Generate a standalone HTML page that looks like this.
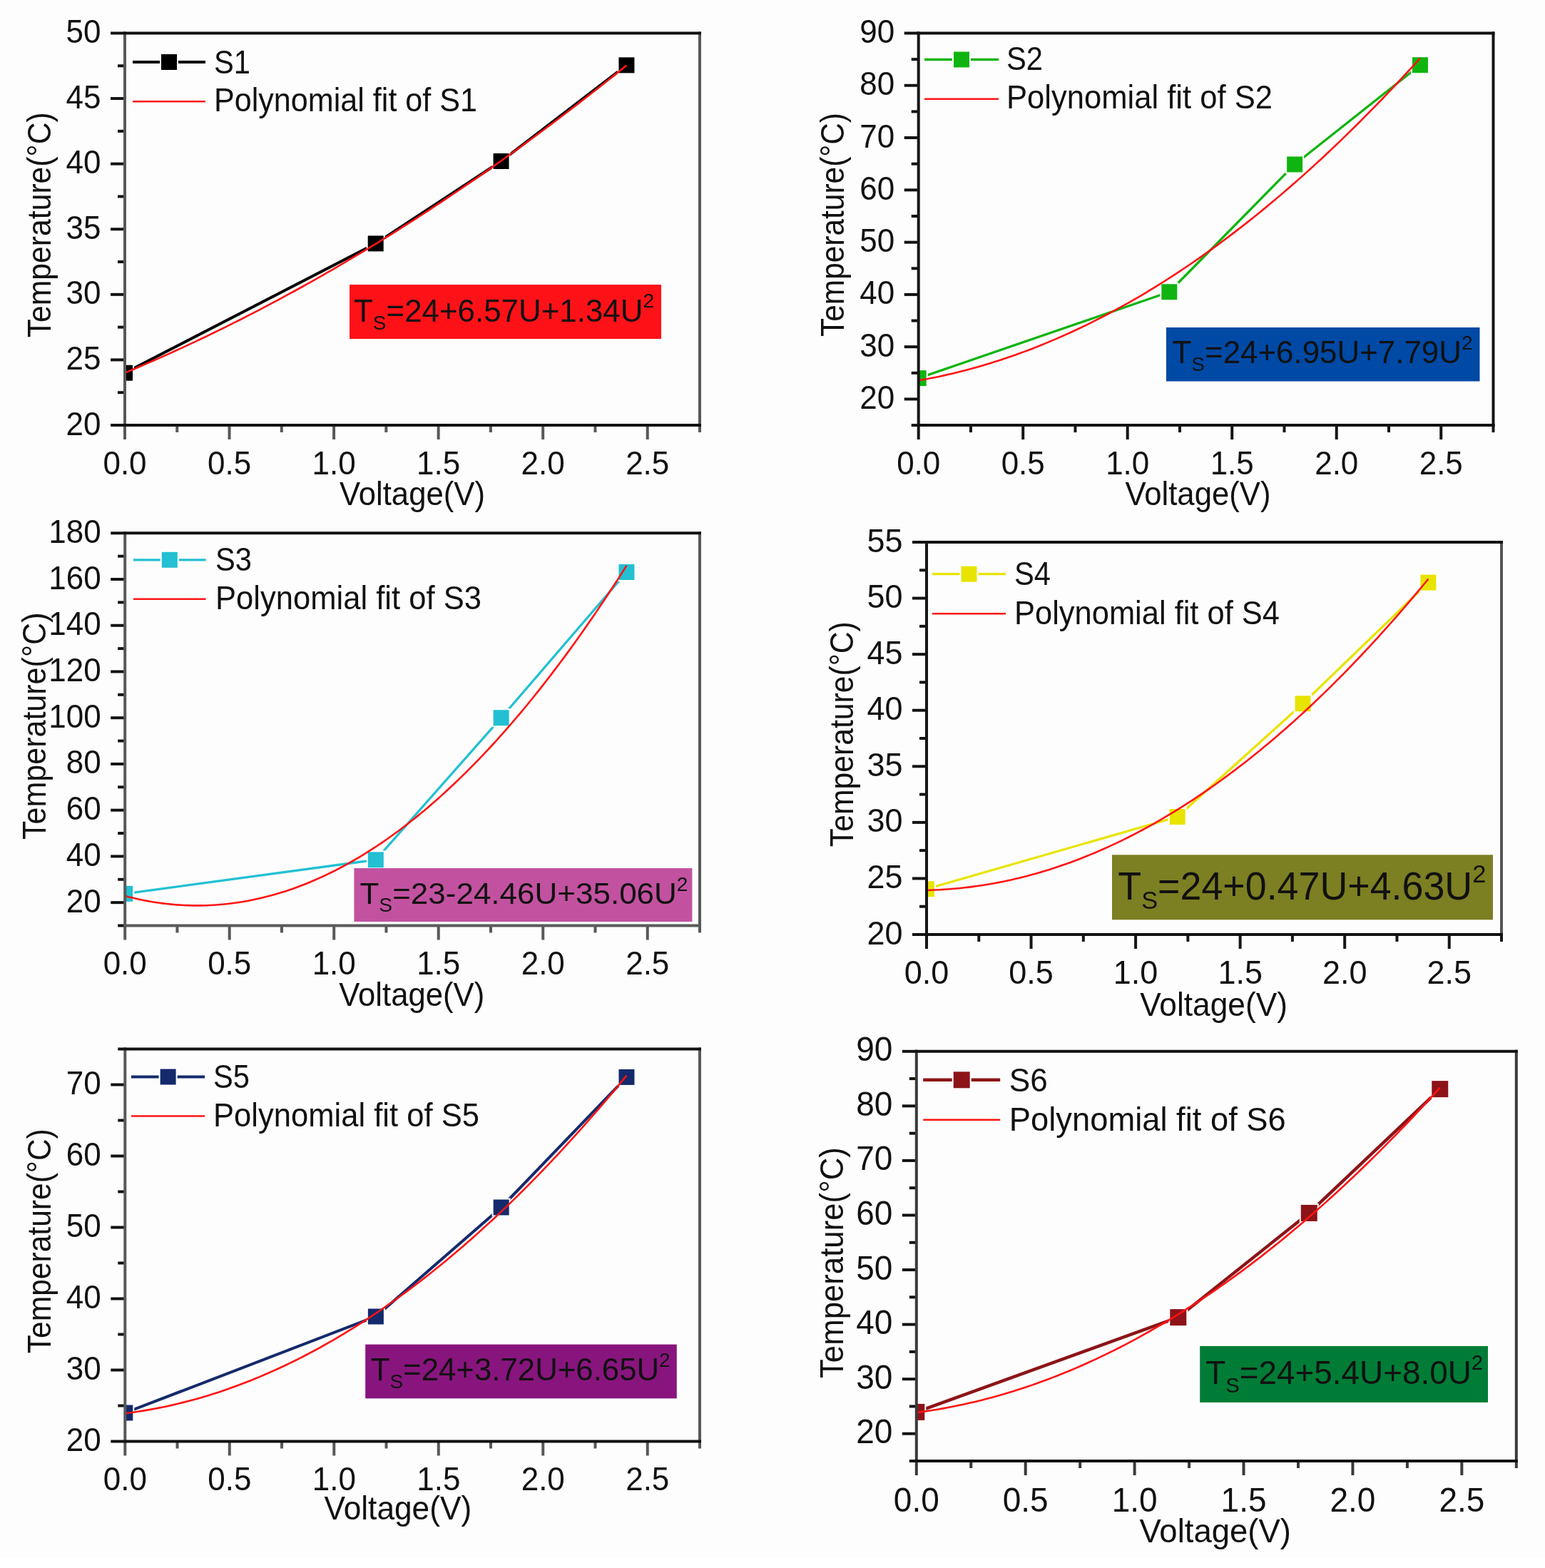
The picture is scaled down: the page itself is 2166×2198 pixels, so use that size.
<!DOCTYPE html>
<html><head><meta charset="utf-8"><title>Temperature vs Voltage</title>
<style>
html,body{margin:0;padding:0;background:#fff;}
body{width:2166px;height:2198px;overflow:hidden;}
svg{display:block;}
text{font-family:"Liberation Sans", Arial, sans-serif;fill:#111;}
</style></head>
<body>
<svg width="2166" height="2198" viewBox="0 0 2166 2198">
<rect width="2166" height="2198" fill="#fff"/>
<rect width="2166" height="2183" fill="#fdfdfd"/>
<clipPath id="c1"><rect x="175" y="46.5" width="806" height="549.5"/></clipPath>
<g clip-path="url(#c1)">
<polyline points="175.00,522.73 526.71,341.40 702.56,226.00 878.42,91.38" fill="none" stroke="#000000" stroke-width="4" stroke-linejoin="round"/>
<rect x="162.00" y="509.73" width="26" height="26" fill="#fff"/>
<rect x="513.71" y="328.40" width="26" height="26" fill="#fff"/>
<rect x="689.56" y="213.00" width="26" height="26" fill="#fff"/>
<rect x="865.42" y="78.38" width="26" height="26" fill="#fff"/>
<rect x="164.00" y="511.73" width="22" height="22" fill="#000000"/>
<rect x="515.71" y="330.40" width="22" height="22" fill="#000000"/>
<rect x="691.56" y="215.00" width="22" height="22" fill="#000000"/>
<rect x="867.42" y="80.38" width="22" height="22" fill="#000000"/>
<polyline points="175.00,522.66 180.91,520.19 186.82,517.71 192.73,515.20 198.64,512.68 204.56,510.14 210.47,507.57 216.38,504.99 222.29,502.39 228.20,499.77 234.11,497.12 240.02,494.46 245.93,491.78 251.84,489.08 257.76,486.36 263.67,483.62 269.58,480.86 275.49,478.08 281.40,475.29 287.31,472.47 293.22,469.63 299.13,466.77 305.04,463.89 310.95,461.00 316.87,458.08 322.78,455.15 328.69,452.19 334.60,449.22 340.51,446.22 346.42,443.21 352.33,440.17 358.24,437.12 364.15,434.05 370.07,430.95 375.98,427.84 381.89,424.71 387.80,421.56 393.71,418.39 399.62,415.19 405.53,411.98 411.44,408.75 417.35,405.50 423.27,402.24 429.18,398.95 435.09,395.64 441.00,392.31 446.91,388.96 452.82,385.59 458.73,382.21 464.64,378.80 470.55,375.38 476.46,371.93 482.38,368.46 488.29,364.98 494.20,361.47 500.11,357.95 506.02,354.41 511.93,350.84 517.84,347.26 523.75,343.66 529.66,340.03 535.58,336.39 541.49,332.73 547.40,329.05 553.31,325.35 559.22,321.63 565.13,317.89 571.04,314.13 576.95,310.35 582.86,306.55 588.78,302.73 594.69,298.89 600.60,295.04 606.51,291.16 612.42,287.26 618.33,283.35 624.24,279.41 630.15,275.45 636.06,271.48 641.98,267.48 647.89,263.47 653.80,259.43 659.71,255.38 665.62,251.31 671.53,247.21 677.44,243.10 683.35,238.97 689.26,234.82 695.17,230.65 701.09,226.45 707.00,222.24 712.91,218.01 718.82,213.76 724.73,209.49 730.64,205.20 736.55,200.90 742.46,196.57 748.37,192.22 754.29,187.85 760.20,183.46 766.11,179.06 772.02,174.63 777.93,170.19 783.84,165.72 789.75,161.23 795.66,156.73 801.57,152.20 807.49,147.66 813.40,143.10 819.31,138.51 825.22,133.91 831.13,129.29 837.04,124.65 842.95,119.98 848.86,115.30 854.77,110.60 860.68,105.88 866.60,101.14 872.51,96.38 878.42,91.60" fill="none" stroke="#ff1414" stroke-width="2.6"/>
</g>
<rect x="490" y="399" width="437" height="76" fill="#fe1218"/>
<text transform="translate(496,450.5) scale(0.5)" font-size="88.0" textLength="842.0" lengthAdjust="spacingAndGlyphs">T<tspan font-size="56.3" dy="22.0">S</tspan><tspan dy="-22.0">=24+6.57U+1.34U</tspan><tspan font-size="56.3" dy="-38.7">2</tspan></text>
<text transform="translate(175.00,664.50) scale(0.5,0.5200)" font-size="88.0" text-anchor="middle">0.0</text>
<text transform="translate(321.55,664.50) scale(0.5,0.5200)" font-size="88.0" text-anchor="middle">0.5</text>
<text transform="translate(468.09,664.50) scale(0.5,0.5200)" font-size="88.0" text-anchor="middle">1.0</text>
<text transform="translate(614.64,664.50) scale(0.5,0.5200)" font-size="88.0" text-anchor="middle">1.5</text>
<text transform="translate(761.18,664.50) scale(0.5,0.5200)" font-size="88.0" text-anchor="middle">2.0</text>
<text transform="translate(907.73,664.50) scale(0.5,0.5200)" font-size="88.0" text-anchor="middle">2.5</text>
<text transform="translate(141.50,609.50) scale(0.5,0.5200)" font-size="88.0" text-anchor="end">20</text>
<text transform="translate(141.50,517.92) scale(0.5,0.5200)" font-size="88.0" text-anchor="end">25</text>
<text transform="translate(141.50,426.33) scale(0.5,0.5200)" font-size="88.0" text-anchor="end">30</text>
<text transform="translate(141.50,334.75) scale(0.5,0.5200)" font-size="88.0" text-anchor="end">35</text>
<text transform="translate(141.50,243.17) scale(0.5,0.5200)" font-size="88.0" text-anchor="end">40</text>
<text transform="translate(141.50,151.58) scale(0.5,0.5200)" font-size="88.0" text-anchor="end">45</text>
<text transform="translate(141.50,60.00) scale(0.5,0.5200)" font-size="88.0" text-anchor="end">50</text>
<line x1="175.00" y1="596" x2="175.00" y2="616" stroke="#585858" stroke-width="4"/>
<line x1="248.27" y1="596" x2="248.27" y2="606" stroke="#585858" stroke-width="4"/>
<line x1="321.55" y1="596" x2="321.55" y2="616" stroke="#585858" stroke-width="4"/>
<line x1="394.82" y1="596" x2="394.82" y2="606" stroke="#585858" stroke-width="4"/>
<line x1="468.09" y1="596" x2="468.09" y2="616" stroke="#585858" stroke-width="4"/>
<line x1="541.36" y1="596" x2="541.36" y2="606" stroke="#585858" stroke-width="4"/>
<line x1="614.64" y1="596" x2="614.64" y2="616" stroke="#585858" stroke-width="4"/>
<line x1="687.91" y1="596" x2="687.91" y2="606" stroke="#585858" stroke-width="4"/>
<line x1="761.18" y1="596" x2="761.18" y2="616" stroke="#585858" stroke-width="4"/>
<line x1="834.45" y1="596" x2="834.45" y2="606" stroke="#585858" stroke-width="4"/>
<line x1="907.73" y1="596" x2="907.73" y2="616" stroke="#585858" stroke-width="4"/>
<line x1="981.00" y1="596" x2="981.00" y2="606" stroke="#585858" stroke-width="4"/>
<line x1="155" y1="596.00" x2="175" y2="596.00" stroke="#111" stroke-width="4"/>
<line x1="165" y1="550.21" x2="175" y2="550.21" stroke="#111" stroke-width="4"/>
<line x1="155" y1="504.42" x2="175" y2="504.42" stroke="#111" stroke-width="4"/>
<line x1="165" y1="458.62" x2="175" y2="458.62" stroke="#111" stroke-width="4"/>
<line x1="155" y1="412.83" x2="175" y2="412.83" stroke="#111" stroke-width="4"/>
<line x1="165" y1="367.04" x2="175" y2="367.04" stroke="#111" stroke-width="4"/>
<line x1="155" y1="321.25" x2="175" y2="321.25" stroke="#111" stroke-width="4"/>
<line x1="165" y1="275.46" x2="175" y2="275.46" stroke="#111" stroke-width="4"/>
<line x1="155" y1="229.67" x2="175" y2="229.67" stroke="#111" stroke-width="4"/>
<line x1="165" y1="183.88" x2="175" y2="183.88" stroke="#111" stroke-width="4"/>
<line x1="155" y1="138.08" x2="175" y2="138.08" stroke="#111" stroke-width="4"/>
<line x1="165" y1="92.29" x2="175" y2="92.29" stroke="#111" stroke-width="4"/>
<line x1="155" y1="46.50" x2="175" y2="46.50" stroke="#111" stroke-width="4"/>
<line x1="175" y1="44.5" x2="175" y2="598.0" stroke="#585858" stroke-width="4"/>
<line x1="981" y1="44.5" x2="981" y2="598.0" stroke="#585858" stroke-width="4"/>
<line x1="173.0" y1="46.5" x2="983.0" y2="46.5" stroke="#111" stroke-width="4"/>
<line x1="173.0" y1="596" x2="983.0" y2="596" stroke="#111" stroke-width="4"/>
<text transform="translate(476.00,708.20) scale(0.5,0.5200)" font-size="88.0" textLength="408.0" lengthAdjust="spacingAndGlyphs">Voltage(V)</text>
<text transform="translate(71.20,473.30) rotate(-90) scale(0.5,0.5200)" font-size="88.0" textLength="632.0" lengthAdjust="spacingAndGlyphs">Temperature(°C)</text>
<line x1="186" y1="87" x2="288" y2="87" stroke="#000000" stroke-width="4"/>
<rect x="224.00" y="74.00" width="26" height="26" fill="#fff"/>
<rect x="226.00" y="76.00" width="22" height="22" fill="#000000"/>
<line x1="186" y1="142.3" x2="288" y2="142.3" stroke="#ff1414" stroke-width="2.6"/>
<text transform="translate(300.00,103.30) scale(0.5,0.5200)" font-size="88.0" textLength="102.0" lengthAdjust="spacingAndGlyphs">S1</text>
<text transform="translate(300.00,156.00) scale(0.5,0.5200)" font-size="88.0" textLength="738.0" lengthAdjust="spacingAndGlyphs">Polynomial fit of S1</text>
<clipPath id="c2"><rect x="1287.7" y="46.5" width="805.8" height="549.6"/></clipPath>
<g clip-path="url(#c2)">
<polyline points="1287.70,530.15 1639.32,409.24 1815.13,230.43 1990.94,91.20" fill="none" stroke="#10b410" stroke-width="3.3" stroke-linejoin="round"/>
<rect x="1274.70" y="517.15" width="26" height="26" fill="#fff"/>
<rect x="1626.32" y="396.24" width="26" height="26" fill="#fff"/>
<rect x="1802.13" y="217.43" width="26" height="26" fill="#fff"/>
<rect x="1977.94" y="78.20" width="26" height="26" fill="#fff"/>
<rect x="1276.70" y="519.15" width="22" height="22" fill="#10b410"/>
<rect x="1628.32" y="398.24" width="22" height="22" fill="#10b410"/>
<rect x="1804.13" y="219.43" width="22" height="22" fill="#10b410"/>
<rect x="1979.94" y="80.20" width="22" height="22" fill="#10b410"/>
<polyline points="1287.70,533.38 1293.61,532.33 1299.52,531.23 1305.43,530.09 1311.34,528.90 1317.25,527.66 1323.16,526.38 1329.07,525.05 1334.98,523.67 1340.89,522.25 1346.80,520.78 1352.71,519.26 1358.62,517.70 1364.52,516.09 1370.43,514.43 1376.34,512.73 1382.25,510.98 1388.16,509.19 1394.07,507.35 1399.98,505.46 1405.89,503.52 1411.80,501.54 1417.71,499.51 1423.62,497.44 1429.53,495.32 1435.44,493.15 1441.35,490.93 1447.26,488.67 1453.17,486.37 1459.08,484.01 1464.99,481.61 1470.90,479.16 1476.81,476.67 1482.72,474.13 1488.63,471.54 1494.54,468.91 1500.45,466.23 1506.36,463.50 1512.27,460.73 1518.17,457.91 1524.08,455.05 1529.99,452.13 1535.90,449.17 1541.81,446.17 1547.72,443.11 1553.63,440.02 1559.54,436.87 1565.45,433.68 1571.36,430.44 1577.27,427.15 1583.18,423.82 1589.09,420.44 1595.00,417.02 1600.91,413.55 1606.82,410.03 1612.73,406.47 1618.64,402.86 1624.55,399.20 1630.46,395.49 1636.37,391.74 1642.28,387.95 1648.19,384.10 1654.10,380.21 1660.01,376.27 1665.92,372.29 1671.82,368.26 1677.73,364.18 1683.64,360.06 1689.55,355.89 1695.46,351.68 1701.37,347.41 1707.28,343.10 1713.19,338.75 1719.10,334.35 1725.01,329.90 1730.92,325.40 1736.83,320.86 1742.74,316.27 1748.65,311.63 1754.56,306.95 1760.47,302.22 1766.38,297.45 1772.29,292.63 1778.20,287.76 1784.11,282.85 1790.02,277.88 1795.93,272.88 1801.84,267.82 1807.75,262.72 1813.66,257.57 1819.56,252.38 1825.47,247.14 1831.38,241.85 1837.29,236.52 1843.20,231.14 1849.11,225.71 1855.02,220.24 1860.93,214.72 1866.84,209.15 1872.75,203.54 1878.66,197.88 1884.57,192.18 1890.48,186.42 1896.39,180.62 1902.30,174.78 1908.21,168.89 1914.12,162.95 1920.03,156.96 1925.94,150.93 1931.85,144.85 1937.76,138.73 1943.67,132.56 1949.58,126.34 1955.49,120.07 1961.40,113.76 1967.31,107.40 1973.21,101.00 1979.12,94.55 1985.03,88.05 1990.94,81.51" fill="none" stroke="#ff1414" stroke-width="2.6"/>
</g>
<rect x="1635" y="459" width="439.5" height="75.5" fill="#0049a5"/>
<text transform="translate(1643.5,509.3) scale(0.5)" font-size="88.0" textLength="842.0" lengthAdjust="spacingAndGlyphs">T<tspan font-size="56.3" dy="22.0">S</tspan><tspan dy="-22.0">=24+6.95U+7.79U</tspan><tspan font-size="56.3" dy="-38.7">2</tspan></text>
<text transform="translate(1287.70,664.60) scale(0.5,0.5200)" font-size="88.0" text-anchor="middle">0.0</text>
<text transform="translate(1434.21,664.60) scale(0.5,0.5200)" font-size="88.0" text-anchor="middle">0.5</text>
<text transform="translate(1580.72,664.60) scale(0.5,0.5200)" font-size="88.0" text-anchor="middle">1.0</text>
<text transform="translate(1727.23,664.60) scale(0.5,0.5200)" font-size="88.0" text-anchor="middle">1.5</text>
<text transform="translate(1873.74,664.60) scale(0.5,0.5200)" font-size="88.0" text-anchor="middle">2.0</text>
<text transform="translate(2020.25,664.60) scale(0.5,0.5200)" font-size="88.0" text-anchor="middle">2.5</text>
<text transform="translate(1254.20,572.96) scale(0.5,0.5200)" font-size="88.0" text-anchor="end">20</text>
<text transform="translate(1254.20,499.68) scale(0.5,0.5200)" font-size="88.0" text-anchor="end">30</text>
<text transform="translate(1254.20,426.40) scale(0.5,0.5200)" font-size="88.0" text-anchor="end">40</text>
<text transform="translate(1254.20,353.12) scale(0.5,0.5200)" font-size="88.0" text-anchor="end">50</text>
<text transform="translate(1254.20,279.84) scale(0.5,0.5200)" font-size="88.0" text-anchor="end">60</text>
<text transform="translate(1254.20,206.56) scale(0.5,0.5200)" font-size="88.0" text-anchor="end">70</text>
<text transform="translate(1254.20,133.28) scale(0.5,0.5200)" font-size="88.0" text-anchor="end">80</text>
<text transform="translate(1254.20,60.00) scale(0.5,0.5200)" font-size="88.0" text-anchor="end">90</text>
<line x1="1287.70" y1="596.1" x2="1287.70" y2="616.1" stroke="#151515" stroke-width="4"/>
<line x1="1360.95" y1="596.1" x2="1360.95" y2="606.1" stroke="#151515" stroke-width="4"/>
<line x1="1434.21" y1="596.1" x2="1434.21" y2="616.1" stroke="#151515" stroke-width="4"/>
<line x1="1507.46" y1="596.1" x2="1507.46" y2="606.1" stroke="#151515" stroke-width="4"/>
<line x1="1580.72" y1="596.1" x2="1580.72" y2="616.1" stroke="#151515" stroke-width="4"/>
<line x1="1653.97" y1="596.1" x2="1653.97" y2="606.1" stroke="#151515" stroke-width="4"/>
<line x1="1727.23" y1="596.1" x2="1727.23" y2="616.1" stroke="#151515" stroke-width="4"/>
<line x1="1800.48" y1="596.1" x2="1800.48" y2="606.1" stroke="#151515" stroke-width="4"/>
<line x1="1873.74" y1="596.1" x2="1873.74" y2="616.1" stroke="#151515" stroke-width="4"/>
<line x1="1946.99" y1="596.1" x2="1946.99" y2="606.1" stroke="#151515" stroke-width="4"/>
<line x1="2020.25" y1="596.1" x2="2020.25" y2="616.1" stroke="#151515" stroke-width="4"/>
<line x1="2093.50" y1="596.1" x2="2093.50" y2="606.1" stroke="#151515" stroke-width="4"/>
<line x1="1277.7" y1="596.10" x2="1287.7" y2="596.10" stroke="#111" stroke-width="4"/>
<line x1="1267.7" y1="559.46" x2="1287.7" y2="559.46" stroke="#111" stroke-width="4"/>
<line x1="1277.7" y1="522.82" x2="1287.7" y2="522.82" stroke="#111" stroke-width="4"/>
<line x1="1267.7" y1="486.18" x2="1287.7" y2="486.18" stroke="#111" stroke-width="4"/>
<line x1="1277.7" y1="449.54" x2="1287.7" y2="449.54" stroke="#111" stroke-width="4"/>
<line x1="1267.7" y1="412.90" x2="1287.7" y2="412.90" stroke="#111" stroke-width="4"/>
<line x1="1277.7" y1="376.26" x2="1287.7" y2="376.26" stroke="#111" stroke-width="4"/>
<line x1="1267.7" y1="339.62" x2="1287.7" y2="339.62" stroke="#111" stroke-width="4"/>
<line x1="1277.7" y1="302.98" x2="1287.7" y2="302.98" stroke="#111" stroke-width="4"/>
<line x1="1267.7" y1="266.34" x2="1287.7" y2="266.34" stroke="#111" stroke-width="4"/>
<line x1="1277.7" y1="229.70" x2="1287.7" y2="229.70" stroke="#111" stroke-width="4"/>
<line x1="1267.7" y1="193.06" x2="1287.7" y2="193.06" stroke="#111" stroke-width="4"/>
<line x1="1277.7" y1="156.42" x2="1287.7" y2="156.42" stroke="#111" stroke-width="4"/>
<line x1="1267.7" y1="119.78" x2="1287.7" y2="119.78" stroke="#111" stroke-width="4"/>
<line x1="1277.7" y1="83.14" x2="1287.7" y2="83.14" stroke="#111" stroke-width="4"/>
<line x1="1267.7" y1="46.50" x2="1287.7" y2="46.50" stroke="#111" stroke-width="4"/>
<line x1="1287.7" y1="44.5" x2="1287.7" y2="598.1" stroke="#151515" stroke-width="4"/>
<line x1="2093.5" y1="44.5" x2="2093.5" y2="598.1" stroke="#151515" stroke-width="4"/>
<line x1="1285.7" y1="46.5" x2="2095.5" y2="46.5" stroke="#111" stroke-width="4"/>
<line x1="1285.7" y1="596.1" x2="2095.5" y2="596.1" stroke="#111" stroke-width="4"/>
<text transform="translate(1577.50,708.20) scale(0.5,0.5200)" font-size="88.0" textLength="408.0" lengthAdjust="spacingAndGlyphs">Voltage(V)</text>
<text transform="translate(1182.70,472.00) rotate(-90) scale(0.5,0.5200)" font-size="88.0" textLength="628.0" lengthAdjust="spacingAndGlyphs">Temperature(°C)</text>
<line x1="1296" y1="83.5" x2="1400" y2="83.5" stroke="#10b410" stroke-width="3.3"/>
<rect x="1335.00" y="70.50" width="26" height="26" fill="#fff"/>
<rect x="1337.00" y="72.50" width="22" height="22" fill="#10b410"/>
<line x1="1296" y1="138.7" x2="1400" y2="138.7" stroke="#ff1414" stroke-width="2.6"/>
<text transform="translate(1411.00,98.00) scale(0.5,0.5200)" font-size="88.0" textLength="102.0" lengthAdjust="spacingAndGlyphs">S2</text>
<text transform="translate(1411.00,152.30) scale(0.5,0.5200)" font-size="88.0" textLength="746.0" lengthAdjust="spacingAndGlyphs">Polynomial fit of S2</text>
<clipPath id="c3"><rect x="175.2" y="747.3" width="805.8" height="550.2"/></clipPath>
<g clip-path="url(#c3)">
<polyline points="175.20,1252.84 526.82,1205.26 702.63,1006.22 878.44,802.00" fill="none" stroke="#22c0d2" stroke-width="3.3" stroke-linejoin="round"/>
<rect x="162.20" y="1239.84" width="26" height="26" fill="#fff"/>
<rect x="513.82" y="1192.26" width="26" height="26" fill="#fff"/>
<rect x="689.63" y="993.22" width="26" height="26" fill="#fff"/>
<rect x="865.44" y="789.00" width="26" height="26" fill="#fff"/>
<rect x="164.20" y="1241.84" width="22" height="22" fill="#22c0d2"/>
<rect x="515.82" y="1194.26" width="22" height="22" fill="#22c0d2"/>
<rect x="691.63" y="995.22" width="22" height="22" fill="#22c0d2"/>
<rect x="867.44" y="791.00" width="22" height="22" fill="#22c0d2"/>
<polyline points="175.20,1255.88 181.11,1257.41 187.02,1258.85 192.93,1260.19 198.84,1261.45 204.75,1262.61 210.66,1263.68 216.57,1264.66 222.48,1265.54 228.39,1266.34 234.30,1267.04 240.21,1267.65 246.12,1268.17 252.02,1268.60 257.93,1268.93 263.84,1269.17 269.75,1269.33 275.66,1269.39 281.57,1269.35 287.48,1269.23 293.39,1269.01 299.30,1268.70 305.21,1268.30 311.12,1267.81 317.03,1267.23 322.94,1266.55 328.85,1265.79 334.76,1264.93 340.67,1263.98 346.58,1262.93 352.49,1261.80 358.40,1260.57 364.31,1259.25 370.22,1257.84 376.13,1256.34 382.04,1254.75 387.95,1253.06 393.86,1251.28 399.77,1249.41 405.67,1247.45 411.58,1245.40 417.49,1243.25 423.40,1241.01 429.31,1238.68 435.22,1236.26 441.13,1233.75 447.04,1231.15 452.95,1228.45 458.86,1225.66 464.77,1222.78 470.68,1219.81 476.59,1216.74 482.50,1213.59 488.41,1210.34 494.32,1207.00 500.23,1203.57 506.14,1200.04 512.05,1196.43 517.96,1192.72 523.87,1188.92 529.78,1185.03 535.69,1181.05 541.60,1176.97 547.51,1172.81 553.42,1168.55 559.32,1164.20 565.23,1159.76 571.14,1155.22 577.05,1150.60 582.96,1145.88 588.87,1141.07 594.78,1136.17 600.69,1131.18 606.60,1126.09 612.51,1120.91 618.42,1115.64 624.33,1110.28 630.24,1104.83 636.15,1099.29 642.06,1093.65 647.97,1087.92 653.88,1082.10 659.79,1076.19 665.70,1070.19 671.61,1064.09 677.52,1057.90 683.43,1051.62 689.34,1045.25 695.25,1038.79 701.16,1032.23 707.06,1025.59 712.97,1018.85 718.88,1012.02 724.79,1005.09 730.70,998.08 736.61,990.97 742.52,983.77 748.43,976.48 754.34,969.10 760.25,961.63 766.16,954.06 772.07,946.41 777.98,938.66 783.89,930.81 789.80,922.88 795.71,914.86 801.62,906.74 807.53,898.53 813.44,890.23 819.35,881.84 825.26,873.35 831.17,864.78 837.08,856.11 842.99,847.35 848.90,838.50 854.81,829.55 860.71,820.52 866.62,811.39 872.53,802.17 878.44,792.86" fill="none" stroke="#ff1414" stroke-width="2.6"/>
</g>
<rect x="496.4" y="1217" width="474" height="75" fill="#c252a0"/>
<text transform="translate(504.5,1267.4) scale(0.5)" font-size="86.0" textLength="920.0" lengthAdjust="spacingAndGlyphs">T<tspan font-size="55.0" dy="21.5">S</tspan><tspan dy="-21.5">=23-24.46U+35.06U</tspan><tspan font-size="55.0" dy="-37.8">2</tspan></text>
<text transform="translate(175.20,1366.00) scale(0.5,0.5200)" font-size="88.0" text-anchor="middle">0.0</text>
<text transform="translate(321.71,1366.00) scale(0.5,0.5200)" font-size="88.0" text-anchor="middle">0.5</text>
<text transform="translate(468.22,1366.00) scale(0.5,0.5200)" font-size="88.0" text-anchor="middle">1.0</text>
<text transform="translate(614.73,1366.00) scale(0.5,0.5200)" font-size="88.0" text-anchor="middle">1.5</text>
<text transform="translate(761.24,1366.00) scale(0.5,0.5200)" font-size="88.0" text-anchor="middle">2.0</text>
<text transform="translate(907.75,1366.00) scale(0.5,0.5200)" font-size="88.0" text-anchor="middle">2.5</text>
<text transform="translate(141.70,1278.64) scale(0.5,0.5200)" font-size="88.0" text-anchor="end">20</text>
<text transform="translate(141.70,1213.91) scale(0.5,0.5200)" font-size="88.0" text-anchor="end">40</text>
<text transform="translate(141.70,1149.18) scale(0.5,0.5200)" font-size="88.0" text-anchor="end">60</text>
<text transform="translate(141.70,1084.45) scale(0.5,0.5200)" font-size="88.0" text-anchor="end">80</text>
<text transform="translate(141.70,1019.72) scale(0.5,0.5200)" font-size="88.0" text-anchor="end">100</text>
<text transform="translate(141.70,954.99) scale(0.5,0.5200)" font-size="88.0" text-anchor="end">120</text>
<text transform="translate(141.70,890.26) scale(0.5,0.5200)" font-size="88.0" text-anchor="end">140</text>
<text transform="translate(141.70,825.53) scale(0.5,0.5200)" font-size="88.0" text-anchor="end">160</text>
<text transform="translate(141.70,760.80) scale(0.5,0.5200)" font-size="88.0" text-anchor="end">180</text>
<line x1="175.20" y1="1297.5" x2="175.20" y2="1317.5" stroke="#585858" stroke-width="4"/>
<line x1="248.45" y1="1297.5" x2="248.45" y2="1307.5" stroke="#585858" stroke-width="4"/>
<line x1="321.71" y1="1297.5" x2="321.71" y2="1317.5" stroke="#585858" stroke-width="4"/>
<line x1="394.96" y1="1297.5" x2="394.96" y2="1307.5" stroke="#585858" stroke-width="4"/>
<line x1="468.22" y1="1297.5" x2="468.22" y2="1317.5" stroke="#585858" stroke-width="4"/>
<line x1="541.47" y1="1297.5" x2="541.47" y2="1307.5" stroke="#585858" stroke-width="4"/>
<line x1="614.73" y1="1297.5" x2="614.73" y2="1317.5" stroke="#585858" stroke-width="4"/>
<line x1="687.98" y1="1297.5" x2="687.98" y2="1307.5" stroke="#585858" stroke-width="4"/>
<line x1="761.24" y1="1297.5" x2="761.24" y2="1317.5" stroke="#585858" stroke-width="4"/>
<line x1="834.49" y1="1297.5" x2="834.49" y2="1307.5" stroke="#585858" stroke-width="4"/>
<line x1="907.75" y1="1297.5" x2="907.75" y2="1317.5" stroke="#585858" stroke-width="4"/>
<line x1="981.00" y1="1297.5" x2="981.00" y2="1307.5" stroke="#585858" stroke-width="4"/>
<line x1="165.2" y1="1297.50" x2="175.2" y2="1297.50" stroke="#111" stroke-width="4"/>
<line x1="155.2" y1="1265.14" x2="175.2" y2="1265.14" stroke="#111" stroke-width="4"/>
<line x1="165.2" y1="1232.77" x2="175.2" y2="1232.77" stroke="#111" stroke-width="4"/>
<line x1="155.2" y1="1200.41" x2="175.2" y2="1200.41" stroke="#111" stroke-width="4"/>
<line x1="165.2" y1="1168.04" x2="175.2" y2="1168.04" stroke="#111" stroke-width="4"/>
<line x1="155.2" y1="1135.68" x2="175.2" y2="1135.68" stroke="#111" stroke-width="4"/>
<line x1="165.2" y1="1103.31" x2="175.2" y2="1103.31" stroke="#111" stroke-width="4"/>
<line x1="155.2" y1="1070.95" x2="175.2" y2="1070.95" stroke="#111" stroke-width="4"/>
<line x1="165.2" y1="1038.58" x2="175.2" y2="1038.58" stroke="#111" stroke-width="4"/>
<line x1="155.2" y1="1006.22" x2="175.2" y2="1006.22" stroke="#111" stroke-width="4"/>
<line x1="165.2" y1="973.85" x2="175.2" y2="973.85" stroke="#111" stroke-width="4"/>
<line x1="155.2" y1="941.49" x2="175.2" y2="941.49" stroke="#111" stroke-width="4"/>
<line x1="165.2" y1="909.12" x2="175.2" y2="909.12" stroke="#111" stroke-width="4"/>
<line x1="155.2" y1="876.76" x2="175.2" y2="876.76" stroke="#111" stroke-width="4"/>
<line x1="165.2" y1="844.39" x2="175.2" y2="844.39" stroke="#111" stroke-width="4"/>
<line x1="155.2" y1="812.03" x2="175.2" y2="812.03" stroke="#111" stroke-width="4"/>
<line x1="165.2" y1="779.66" x2="175.2" y2="779.66" stroke="#111" stroke-width="4"/>
<line x1="155.2" y1="747.30" x2="175.2" y2="747.30" stroke="#111" stroke-width="4"/>
<line x1="175.2" y1="745.3" x2="175.2" y2="1299.5" stroke="#585858" stroke-width="4"/>
<line x1="981" y1="745.3" x2="981" y2="1299.5" stroke="#585858" stroke-width="4"/>
<line x1="173.2" y1="747.3" x2="983.0" y2="747.3" stroke="#111" stroke-width="4"/>
<line x1="173.2" y1="1297.5" x2="983.0" y2="1297.5" stroke="#5a5a5a" stroke-width="4"/>
<text transform="translate(475.30,1410.10) scale(0.5,0.5200)" font-size="88.0" textLength="408.0" lengthAdjust="spacingAndGlyphs">Voltage(V)</text>
<text transform="translate(64.00,1177.00) rotate(-90) scale(0.5,0.5200)" font-size="88.0" textLength="637.0" lengthAdjust="spacingAndGlyphs">Temperature(°C)</text>
<line x1="187" y1="784.8" x2="288.6" y2="784.8" stroke="#22c0d2" stroke-width="3.3"/>
<rect x="224.80" y="771.80" width="26" height="26" fill="#fff"/>
<rect x="226.80" y="773.80" width="22" height="22" fill="#22c0d2"/>
<line x1="187" y1="839.7" x2="288.6" y2="839.7" stroke="#ff1414" stroke-width="2.6"/>
<text transform="translate(302.00,799.80) scale(0.5,0.5200)" font-size="88.0" textLength="102.0" lengthAdjust="spacingAndGlyphs">S3</text>
<text transform="translate(302.00,854.00) scale(0.5,0.5200)" font-size="88.0" textLength="746.0" lengthAdjust="spacingAndGlyphs">Polynomial fit of S3</text>
<clipPath id="c4"><rect x="1299" y="760" width="806" height="550"/></clipPath>
<g clip-path="url(#c4)">
<polyline points="1299.00,1246.20 1650.71,1145.00 1826.56,986.29 2002.42,816.57" fill="none" stroke="#e8e400" stroke-width="3.3" stroke-linejoin="round"/>
<rect x="1286.00" y="1233.20" width="26" height="26" fill="#fff"/>
<rect x="1637.71" y="1132.00" width="26" height="26" fill="#fff"/>
<rect x="1813.56" y="973.29" width="26" height="26" fill="#fff"/>
<rect x="1989.42" y="803.57" width="26" height="26" fill="#fff"/>
<rect x="1288.00" y="1235.20" width="22" height="22" fill="#e8e400"/>
<rect x="1639.71" y="1134.00" width="22" height="22" fill="#e8e400"/>
<rect x="1815.56" y="975.29" width="22" height="22" fill="#e8e400"/>
<rect x="1991.42" y="805.57" width="22" height="22" fill="#e8e400"/>
<polyline points="1299.00,1247.87 1304.91,1247.71 1310.82,1247.49 1316.73,1247.22 1322.64,1246.88 1328.56,1246.49 1334.47,1246.03 1340.38,1245.52 1346.29,1244.94 1352.20,1244.31 1358.11,1243.62 1364.02,1242.87 1369.93,1242.06 1375.84,1241.18 1381.76,1240.25 1387.67,1239.26 1393.58,1238.22 1399.49,1237.11 1405.40,1235.94 1411.31,1234.71 1417.22,1233.42 1423.13,1232.08 1429.04,1230.67 1434.95,1229.21 1440.87,1227.68 1446.78,1226.10 1452.69,1224.45 1458.60,1222.75 1464.51,1220.99 1470.42,1219.16 1476.33,1217.28 1482.24,1215.34 1488.15,1213.34 1494.07,1211.28 1499.98,1209.16 1505.89,1206.98 1511.80,1204.74 1517.71,1202.44 1523.62,1200.08 1529.53,1197.67 1535.44,1195.19 1541.35,1192.65 1547.27,1190.06 1553.18,1187.40 1559.09,1184.69 1565.00,1181.91 1570.91,1179.08 1576.82,1176.19 1582.73,1173.24 1588.64,1170.22 1594.55,1167.15 1600.46,1164.02 1606.38,1160.83 1612.29,1157.58 1618.20,1154.27 1624.11,1150.90 1630.02,1147.47 1635.93,1143.99 1641.84,1140.44 1647.75,1136.83 1653.66,1133.17 1659.58,1129.44 1665.49,1125.65 1671.40,1121.81 1677.31,1117.91 1683.22,1113.94 1689.13,1109.92 1695.04,1105.84 1700.95,1101.69 1706.86,1097.49 1712.78,1093.23 1718.69,1088.91 1724.60,1084.53 1730.51,1080.09 1736.42,1075.59 1742.33,1071.03 1748.24,1066.41 1754.15,1061.74 1760.06,1057.00 1765.98,1052.20 1771.89,1047.35 1777.80,1042.43 1783.71,1037.46 1789.62,1032.42 1795.53,1027.33 1801.44,1022.18 1807.35,1016.96 1813.26,1011.69 1819.17,1006.36 1825.09,1000.97 1831.00,995.52 1836.91,990.01 1842.82,984.44 1848.73,978.81 1854.64,973.12 1860.55,967.37 1866.46,961.56 1872.37,955.70 1878.29,949.77 1884.20,943.79 1890.11,937.74 1896.02,931.63 1901.93,925.47 1907.84,919.25 1913.75,912.96 1919.66,906.62 1925.57,900.22 1931.49,893.76 1937.40,887.23 1943.31,880.65 1949.22,874.01 1955.13,867.31 1961.04,860.55 1966.95,853.74 1972.86,846.86 1978.77,839.92 1984.68,832.92 1990.60,825.87 1996.51,818.75 2002.42,811.57" fill="none" stroke="#ff1414" stroke-width="2.6"/>
</g>
<rect x="1559" y="1198.3" width="534" height="91" fill="#7c7f22"/>
<text transform="translate(1567.3,1260.7) scale(0.5)" font-size="110.0" textLength="1032.0" lengthAdjust="spacingAndGlyphs">T<tspan font-size="70.4" dy="27.5">S</tspan><tspan dy="-27.5">=24+0.47U+4.63U</tspan><tspan font-size="70.4" dy="-48.4">2</tspan></text>
<text transform="translate(1299.00,1378.50) scale(0.5,0.5200)" font-size="90.0" text-anchor="middle">0.0</text>
<text transform="translate(1445.55,1378.50) scale(0.5,0.5200)" font-size="90.0" text-anchor="middle">0.5</text>
<text transform="translate(1592.09,1378.50) scale(0.5,0.5200)" font-size="90.0" text-anchor="middle">1.0</text>
<text transform="translate(1738.64,1378.50) scale(0.5,0.5200)" font-size="90.0" text-anchor="middle">1.5</text>
<text transform="translate(1885.18,1378.50) scale(0.5,0.5200)" font-size="90.0" text-anchor="middle">2.0</text>
<text transform="translate(2031.73,1378.50) scale(0.5,0.5200)" font-size="90.0" text-anchor="middle">2.5</text>
<text transform="translate(1265.50,1323.50) scale(0.5,0.5200)" font-size="90.0" text-anchor="end">20</text>
<text transform="translate(1265.50,1244.93) scale(0.5,0.5200)" font-size="90.0" text-anchor="end">25</text>
<text transform="translate(1265.50,1166.36) scale(0.5,0.5200)" font-size="90.0" text-anchor="end">30</text>
<text transform="translate(1265.50,1087.79) scale(0.5,0.5200)" font-size="90.0" text-anchor="end">35</text>
<text transform="translate(1265.50,1009.21) scale(0.5,0.5200)" font-size="90.0" text-anchor="end">40</text>
<text transform="translate(1265.50,930.64) scale(0.5,0.5200)" font-size="90.0" text-anchor="end">45</text>
<text transform="translate(1265.50,852.07) scale(0.5,0.5200)" font-size="90.0" text-anchor="end">50</text>
<text transform="translate(1265.50,773.50) scale(0.5,0.5200)" font-size="90.0" text-anchor="end">55</text>
<line x1="1299.00" y1="1310" x2="1299.00" y2="1330" stroke="#151515" stroke-width="4"/>
<line x1="1372.27" y1="1310" x2="1372.27" y2="1320" stroke="#151515" stroke-width="4"/>
<line x1="1445.55" y1="1310" x2="1445.55" y2="1330" stroke="#151515" stroke-width="4"/>
<line x1="1518.82" y1="1310" x2="1518.82" y2="1320" stroke="#151515" stroke-width="4"/>
<line x1="1592.09" y1="1310" x2="1592.09" y2="1330" stroke="#151515" stroke-width="4"/>
<line x1="1665.36" y1="1310" x2="1665.36" y2="1320" stroke="#151515" stroke-width="4"/>
<line x1="1738.64" y1="1310" x2="1738.64" y2="1330" stroke="#151515" stroke-width="4"/>
<line x1="1811.91" y1="1310" x2="1811.91" y2="1320" stroke="#151515" stroke-width="4"/>
<line x1="1885.18" y1="1310" x2="1885.18" y2="1330" stroke="#151515" stroke-width="4"/>
<line x1="1958.45" y1="1310" x2="1958.45" y2="1320" stroke="#151515" stroke-width="4"/>
<line x1="2031.73" y1="1310" x2="2031.73" y2="1330" stroke="#151515" stroke-width="4"/>
<line x1="2105.00" y1="1310" x2="2105.00" y2="1320" stroke="#151515" stroke-width="4"/>
<line x1="1279" y1="1310.00" x2="1299" y2="1310.00" stroke="#111" stroke-width="4"/>
<line x1="1289" y1="1270.71" x2="1299" y2="1270.71" stroke="#111" stroke-width="4"/>
<line x1="1279" y1="1231.43" x2="1299" y2="1231.43" stroke="#111" stroke-width="4"/>
<line x1="1289" y1="1192.14" x2="1299" y2="1192.14" stroke="#111" stroke-width="4"/>
<line x1="1279" y1="1152.86" x2="1299" y2="1152.86" stroke="#111" stroke-width="4"/>
<line x1="1289" y1="1113.57" x2="1299" y2="1113.57" stroke="#111" stroke-width="4"/>
<line x1="1279" y1="1074.29" x2="1299" y2="1074.29" stroke="#111" stroke-width="4"/>
<line x1="1289" y1="1035.00" x2="1299" y2="1035.00" stroke="#111" stroke-width="4"/>
<line x1="1279" y1="995.71" x2="1299" y2="995.71" stroke="#111" stroke-width="4"/>
<line x1="1289" y1="956.43" x2="1299" y2="956.43" stroke="#111" stroke-width="4"/>
<line x1="1279" y1="917.14" x2="1299" y2="917.14" stroke="#111" stroke-width="4"/>
<line x1="1289" y1="877.86" x2="1299" y2="877.86" stroke="#111" stroke-width="4"/>
<line x1="1279" y1="838.57" x2="1299" y2="838.57" stroke="#111" stroke-width="4"/>
<line x1="1289" y1="799.29" x2="1299" y2="799.29" stroke="#111" stroke-width="4"/>
<line x1="1279" y1="760.00" x2="1299" y2="760.00" stroke="#111" stroke-width="4"/>
<line x1="1299" y1="758.0" x2="1299" y2="1312.0" stroke="#151515" stroke-width="4"/>
<line x1="2105" y1="758.0" x2="2105" y2="1312.0" stroke="#555555" stroke-width="4"/>
<line x1="1297.0" y1="760" x2="2107.0" y2="760" stroke="#111" stroke-width="4"/>
<line x1="1297.0" y1="1310" x2="2107.0" y2="1310" stroke="#111" stroke-width="4"/>
<text transform="translate(1598.20,1423.80) scale(0.5,0.5200)" font-size="88.0" textLength="413.4" lengthAdjust="spacingAndGlyphs">Voltage(V)</text>
<text transform="translate(1195.60,1187.20) rotate(-90) scale(0.5,0.5200)" font-size="88.0" textLength="632.0" lengthAdjust="spacingAndGlyphs">Temperature(°C)</text>
<line x1="1307" y1="804.7" x2="1410" y2="804.7" stroke="#e8e400" stroke-width="3.3"/>
<rect x="1345.50" y="791.70" width="26" height="26" fill="#fff"/>
<rect x="1347.50" y="793.70" width="22" height="22" fill="#e8e400"/>
<line x1="1307" y1="860.3" x2="1410" y2="860.3" stroke="#ff1414" stroke-width="2.6"/>
<text transform="translate(1422.00,819.70) scale(0.5,0.5200)" font-size="88.0" textLength="102.0" lengthAdjust="spacingAndGlyphs">S4</text>
<text transform="translate(1422.00,874.50) scale(0.5,0.5200)" font-size="88.0" textLength="744.0" lengthAdjust="spacingAndGlyphs">Polynomial fit of S4</text>
<clipPath id="c5"><rect x="175.3" y="1470.5" width="805.7" height="550.0"/></clipPath>
<g clip-path="url(#c5)">
<polyline points="175.30,1980.50 526.88,1845.50 702.67,1692.50 878.46,1509.90" fill="none" stroke="#152a6c" stroke-width="4" stroke-linejoin="round"/>
<rect x="162.30" y="1967.50" width="26" height="26" fill="#fff"/>
<rect x="513.88" y="1832.50" width="26" height="26" fill="#fff"/>
<rect x="689.67" y="1679.50" width="26" height="26" fill="#fff"/>
<rect x="865.46" y="1496.90" width="26" height="26" fill="#fff"/>
<rect x="164.30" y="1969.50" width="22" height="22" fill="#152a6c"/>
<rect x="515.88" y="1834.50" width="22" height="22" fill="#152a6c"/>
<rect x="691.67" y="1681.50" width="22" height="22" fill="#152a6c"/>
<rect x="867.46" y="1498.90" width="22" height="22" fill="#152a6c"/>
<polyline points="175.30,1981.25 181.21,1980.49 187.12,1979.67 193.03,1978.80 198.94,1977.88 204.84,1976.90 210.75,1975.86 216.66,1974.77 222.57,1973.63 228.48,1972.43 234.39,1971.18 240.30,1969.87 246.21,1968.51 252.12,1967.10 258.02,1965.63 263.93,1964.10 269.84,1962.52 275.75,1960.89 281.66,1959.20 287.57,1957.46 293.48,1955.66 299.39,1953.81 305.30,1951.90 311.20,1949.94 317.11,1947.92 323.02,1945.85 328.93,1943.73 334.84,1941.55 340.75,1939.31 346.66,1937.03 352.57,1934.68 358.48,1932.28 364.38,1929.83 370.29,1927.32 376.20,1924.76 382.11,1922.15 388.02,1919.48 393.93,1916.75 399.84,1913.97 405.75,1911.14 411.66,1908.25 417.56,1905.31 423.47,1902.31 429.38,1899.26 435.29,1896.15 441.20,1892.99 447.11,1889.77 453.02,1886.50 458.93,1883.18 464.83,1879.80 470.74,1876.36 476.65,1872.87 482.56,1869.33 488.47,1865.73 494.38,1862.08 500.29,1858.37 506.20,1854.61 512.11,1850.80 518.01,1846.92 523.92,1843.00 529.83,1839.02 535.74,1834.99 541.65,1830.90 547.56,1826.75 553.47,1822.56 559.38,1818.30 565.29,1814.00 571.19,1809.63 577.10,1805.22 583.01,1800.75 588.92,1796.22 594.83,1791.64 600.74,1787.01 606.65,1782.32 612.56,1777.58 618.47,1772.78 624.37,1767.92 630.28,1763.02 636.19,1758.06 642.10,1753.04 648.01,1747.97 653.92,1742.84 659.83,1737.66 665.74,1732.43 671.65,1727.14 677.55,1721.80 683.46,1716.40 689.37,1710.95 695.28,1705.44 701.19,1699.88 707.10,1694.26 713.01,1688.59 718.92,1682.86 724.83,1677.08 730.73,1671.25 736.64,1665.36 742.55,1659.42 748.46,1653.42 754.37,1647.37 760.28,1641.26 766.19,1635.10 772.10,1628.88 778.01,1622.61 783.91,1616.28 789.82,1609.90 795.73,1603.47 801.64,1596.98 807.55,1590.44 813.46,1583.84 819.37,1577.19 825.28,1570.48 831.19,1563.72 837.09,1556.90 843.00,1550.03 848.91,1543.10 854.82,1536.12 860.73,1529.09 866.64,1522.00 872.55,1514.86 878.46,1507.66" fill="none" stroke="#ff1414" stroke-width="2.6"/>
</g>
<rect x="512.2" y="1884.6" width="436.6" height="75.7" fill="#88157e"/>
<text transform="translate(519.7,1935.1) scale(0.5)" font-size="88.0" textLength="840.0" lengthAdjust="spacingAndGlyphs">T<tspan font-size="56.3" dy="22.0">S</tspan><tspan dy="-22.0">=24+3.72U+6.65U</tspan><tspan font-size="56.3" dy="-38.7">2</tspan></text>
<text transform="translate(175.30,2089.00) scale(0.5,0.5200)" font-size="88.0" text-anchor="middle">0.0</text>
<text transform="translate(321.79,2089.00) scale(0.5,0.5200)" font-size="88.0" text-anchor="middle">0.5</text>
<text transform="translate(468.28,2089.00) scale(0.5,0.5200)" font-size="88.0" text-anchor="middle">1.0</text>
<text transform="translate(614.77,2089.00) scale(0.5,0.5200)" font-size="88.0" text-anchor="middle">1.5</text>
<text transform="translate(761.26,2089.00) scale(0.5,0.5200)" font-size="88.0" text-anchor="middle">2.0</text>
<text transform="translate(907.75,2089.00) scale(0.5,0.5200)" font-size="88.0" text-anchor="middle">2.5</text>
<text transform="translate(141.80,2034.00) scale(0.5,0.5200)" font-size="88.0" text-anchor="end">20</text>
<text transform="translate(141.80,1934.00) scale(0.5,0.5200)" font-size="88.0" text-anchor="end">30</text>
<text transform="translate(141.80,1834.00) scale(0.5,0.5200)" font-size="88.0" text-anchor="end">40</text>
<text transform="translate(141.80,1734.00) scale(0.5,0.5200)" font-size="88.0" text-anchor="end">50</text>
<text transform="translate(141.80,1634.00) scale(0.5,0.5200)" font-size="88.0" text-anchor="end">60</text>
<text transform="translate(141.80,1534.00) scale(0.5,0.5200)" font-size="88.0" text-anchor="end">70</text>
<line x1="175.30" y1="2020.5" x2="175.30" y2="2040.5" stroke="#585858" stroke-width="4"/>
<line x1="248.55" y1="2020.5" x2="248.55" y2="2030.5" stroke="#585858" stroke-width="4"/>
<line x1="321.79" y1="2020.5" x2="321.79" y2="2040.5" stroke="#585858" stroke-width="4"/>
<line x1="395.04" y1="2020.5" x2="395.04" y2="2030.5" stroke="#585858" stroke-width="4"/>
<line x1="468.28" y1="2020.5" x2="468.28" y2="2040.5" stroke="#585858" stroke-width="4"/>
<line x1="541.53" y1="2020.5" x2="541.53" y2="2030.5" stroke="#585858" stroke-width="4"/>
<line x1="614.77" y1="2020.5" x2="614.77" y2="2040.5" stroke="#585858" stroke-width="4"/>
<line x1="688.02" y1="2020.5" x2="688.02" y2="2030.5" stroke="#585858" stroke-width="4"/>
<line x1="761.26" y1="2020.5" x2="761.26" y2="2040.5" stroke="#585858" stroke-width="4"/>
<line x1="834.51" y1="2020.5" x2="834.51" y2="2030.5" stroke="#585858" stroke-width="4"/>
<line x1="907.75" y1="2020.5" x2="907.75" y2="2040.5" stroke="#585858" stroke-width="4"/>
<line x1="981.00" y1="2020.5" x2="981.00" y2="2030.5" stroke="#585858" stroke-width="4"/>
<line x1="155.3" y1="2020.50" x2="175.3" y2="2020.50" stroke="#111" stroke-width="4"/>
<line x1="165.3" y1="1970.50" x2="175.3" y2="1970.50" stroke="#111" stroke-width="4"/>
<line x1="155.3" y1="1920.50" x2="175.3" y2="1920.50" stroke="#111" stroke-width="4"/>
<line x1="165.3" y1="1870.50" x2="175.3" y2="1870.50" stroke="#111" stroke-width="4"/>
<line x1="155.3" y1="1820.50" x2="175.3" y2="1820.50" stroke="#111" stroke-width="4"/>
<line x1="165.3" y1="1770.50" x2="175.3" y2="1770.50" stroke="#111" stroke-width="4"/>
<line x1="155.3" y1="1720.50" x2="175.3" y2="1720.50" stroke="#111" stroke-width="4"/>
<line x1="165.3" y1="1670.50" x2="175.3" y2="1670.50" stroke="#111" stroke-width="4"/>
<line x1="155.3" y1="1620.50" x2="175.3" y2="1620.50" stroke="#111" stroke-width="4"/>
<line x1="165.3" y1="1570.50" x2="175.3" y2="1570.50" stroke="#111" stroke-width="4"/>
<line x1="155.3" y1="1520.50" x2="175.3" y2="1520.50" stroke="#111" stroke-width="4"/>
<line x1="165.3" y1="1470.50" x2="175.3" y2="1470.50" stroke="#111" stroke-width="4"/>
<line x1="175.3" y1="1468.5" x2="175.3" y2="2022.5" stroke="#585858" stroke-width="4"/>
<line x1="981" y1="1468.5" x2="981" y2="2022.5" stroke="#585858" stroke-width="4"/>
<line x1="173.3" y1="1470.5" x2="983.0" y2="1470.5" stroke="#111" stroke-width="4"/>
<line x1="173.3" y1="2020.5" x2="983.0" y2="2020.5" stroke="#111" stroke-width="4"/>
<text transform="translate(454.60,2129.90) scale(0.5,0.5200)" font-size="88.0" textLength="413.2" lengthAdjust="spacingAndGlyphs">Voltage(V)</text>
<text transform="translate(70.80,1897.20) rotate(-90) scale(0.5,0.5200)" font-size="88.0" textLength="630.0" lengthAdjust="spacingAndGlyphs">Temperature(°C)</text>
<line x1="184" y1="1509.5" x2="287.2" y2="1509.5" stroke="#152a6c" stroke-width="4"/>
<rect x="222.60" y="1496.50" width="26" height="26" fill="#fff"/>
<rect x="224.60" y="1498.50" width="22" height="22" fill="#152a6c"/>
<line x1="184" y1="1564.5" x2="287.2" y2="1564.5" stroke="#ff1414" stroke-width="2.6"/>
<text transform="translate(299.00,1525.10) scale(0.5,0.5200)" font-size="88.0" textLength="102.0" lengthAdjust="spacingAndGlyphs">S5</text>
<text transform="translate(299.00,1579.40) scale(0.5,0.5200)" font-size="88.0" textLength="746.0" lengthAdjust="spacingAndGlyphs">Polynomial fit of S5</text>
<clipPath id="c6"><rect x="1284.8" y="1473.8" width="841.0000000000002" height="574.2"/></clipPath>
<g clip-path="url(#c6)">
<polyline points="1284.80,1979.40 1651.78,1846.65 1835.27,1700.42 2018.76,1526.63" fill="none" stroke="#8c1418" stroke-width="4.4" stroke-linejoin="round"/>
<rect x="1271.30" y="1965.90" width="27" height="27" fill="#fff"/>
<rect x="1638.28" y="1833.15" width="27" height="27" fill="#fff"/>
<rect x="1821.77" y="1686.92" width="27" height="27" fill="#fff"/>
<rect x="2005.26" y="1513.13" width="27" height="27" fill="#fff"/>
<rect x="1273.30" y="1967.90" width="23" height="23" fill="#8c1418"/>
<rect x="1640.28" y="1835.15" width="23" height="23" fill="#8c1418"/>
<rect x="1823.77" y="1688.92" width="23" height="23" fill="#8c1418"/>
<rect x="2007.26" y="1515.13" width="23" height="23" fill="#8c1418"/>
<polyline points="1284.80,1980.10 1290.97,1979.28 1297.14,1978.40 1303.30,1977.48 1309.47,1976.50 1315.64,1975.47 1321.81,1974.39 1327.97,1973.26 1334.14,1972.08 1340.31,1970.85 1346.48,1969.57 1352.65,1968.24 1358.81,1966.85 1364.98,1965.42 1371.15,1963.93 1377.32,1962.39 1383.48,1960.81 1389.65,1959.17 1395.82,1957.48 1401.99,1955.74 1408.16,1953.94 1414.32,1952.10 1420.49,1950.21 1426.66,1948.26 1432.83,1946.27 1438.99,1944.22 1445.16,1942.13 1451.33,1939.98 1457.50,1937.78 1463.67,1935.53 1469.83,1933.23 1476.00,1930.88 1482.17,1928.47 1488.34,1926.02 1494.50,1923.51 1500.67,1920.96 1506.84,1918.35 1513.01,1915.70 1519.17,1912.99 1525.34,1910.23 1531.51,1907.42 1537.68,1904.56 1543.85,1901.65 1550.01,1898.68 1556.18,1895.67 1562.35,1892.60 1568.52,1889.49 1574.68,1886.32 1580.85,1883.11 1587.02,1879.84 1593.19,1876.52 1599.36,1873.15 1605.52,1869.73 1611.69,1866.25 1617.86,1862.73 1624.03,1859.16 1630.19,1855.53 1636.36,1851.86 1642.53,1848.13 1648.70,1844.35 1654.87,1840.53 1661.03,1836.65 1667.20,1832.72 1673.37,1828.73 1679.54,1824.70 1685.70,1820.62 1691.87,1816.49 1698.04,1812.30 1704.21,1808.07 1710.38,1803.78 1716.54,1799.44 1722.71,1795.05 1728.88,1790.61 1735.05,1786.12 1741.21,1781.58 1747.38,1776.99 1753.55,1772.35 1759.72,1767.65 1765.89,1762.91 1772.05,1758.11 1778.22,1753.27 1784.39,1748.37 1790.56,1743.42 1796.72,1738.42 1802.89,1733.37 1809.06,1728.27 1815.23,1723.12 1821.40,1717.91 1827.56,1712.66 1833.73,1707.35 1839.90,1702.00 1846.07,1696.59 1852.23,1691.13 1858.40,1685.62 1864.57,1680.06 1870.74,1674.45 1876.91,1668.79 1883.07,1663.08 1889.24,1657.32 1895.41,1651.50 1901.58,1645.64 1907.74,1639.72 1913.91,1633.75 1920.08,1627.74 1926.25,1621.67 1932.41,1615.55 1938.58,1609.38 1944.75,1603.16 1950.92,1596.88 1957.09,1590.56 1963.25,1584.19 1969.42,1577.76 1975.59,1571.28 1981.76,1564.76 1987.92,1558.18 1994.09,1551.55 2000.26,1544.87 2006.43,1538.14 2012.60,1531.36 2018.76,1524.53" fill="none" stroke="#ff1414" stroke-width="2.6"/>
</g>
<rect x="1682.2" y="1886.9" width="403.8" height="79" fill="#007c36"/>
<text transform="translate(1690.2,1940.1) scale(0.5)" font-size="91.0" textLength="778.0" lengthAdjust="spacingAndGlyphs">T<tspan font-size="58.2" dy="22.8">S</tspan><tspan dy="-22.8">=24+5.4U+8.0U</tspan><tspan font-size="58.2" dy="-40.0">2</tspan></text>
<text transform="translate(1284.80,2119.00) scale(0.5,0.5200)" font-size="92.0" text-anchor="middle">0.0</text>
<text transform="translate(1437.71,2119.00) scale(0.5,0.5200)" font-size="92.0" text-anchor="middle">0.5</text>
<text transform="translate(1590.62,2119.00) scale(0.5,0.5200)" font-size="92.0" text-anchor="middle">1.0</text>
<text transform="translate(1743.53,2119.00) scale(0.5,0.5200)" font-size="92.0" text-anchor="middle">1.5</text>
<text transform="translate(1896.44,2119.00) scale(0.5,0.5200)" font-size="92.0" text-anchor="middle">2.0</text>
<text transform="translate(2049.35,2119.00) scale(0.5,0.5200)" font-size="92.0" text-anchor="middle">2.5</text>
<text transform="translate(1251.30,2023.22) scale(0.5,0.5200)" font-size="92.0" text-anchor="end">20</text>
<text transform="translate(1251.30,1946.66) scale(0.5,0.5200)" font-size="92.0" text-anchor="end">30</text>
<text transform="translate(1251.30,1870.10) scale(0.5,0.5200)" font-size="92.0" text-anchor="end">40</text>
<text transform="translate(1251.30,1793.54) scale(0.5,0.5200)" font-size="92.0" text-anchor="end">50</text>
<text transform="translate(1251.30,1716.98) scale(0.5,0.5200)" font-size="92.0" text-anchor="end">60</text>
<text transform="translate(1251.30,1640.42) scale(0.5,0.5200)" font-size="92.0" text-anchor="end">70</text>
<text transform="translate(1251.30,1563.86) scale(0.5,0.5200)" font-size="92.0" text-anchor="end">80</text>
<text transform="translate(1251.30,1487.30) scale(0.5,0.5200)" font-size="92.0" text-anchor="end">90</text>
<line x1="1284.80" y1="2048" x2="1284.80" y2="2068" stroke="#3a3a3a" stroke-width="4"/>
<line x1="1361.25" y1="2048" x2="1361.25" y2="2058" stroke="#3a3a3a" stroke-width="4"/>
<line x1="1437.71" y1="2048" x2="1437.71" y2="2068" stroke="#3a3a3a" stroke-width="4"/>
<line x1="1514.16" y1="2048" x2="1514.16" y2="2058" stroke="#3a3a3a" stroke-width="4"/>
<line x1="1590.62" y1="2048" x2="1590.62" y2="2068" stroke="#3a3a3a" stroke-width="4"/>
<line x1="1667.07" y1="2048" x2="1667.07" y2="2058" stroke="#3a3a3a" stroke-width="4"/>
<line x1="1743.53" y1="2048" x2="1743.53" y2="2068" stroke="#3a3a3a" stroke-width="4"/>
<line x1="1819.98" y1="2048" x2="1819.98" y2="2058" stroke="#3a3a3a" stroke-width="4"/>
<line x1="1896.44" y1="2048" x2="1896.44" y2="2068" stroke="#3a3a3a" stroke-width="4"/>
<line x1="1972.89" y1="2048" x2="1972.89" y2="2058" stroke="#3a3a3a" stroke-width="4"/>
<line x1="2049.35" y1="2048" x2="2049.35" y2="2068" stroke="#3a3a3a" stroke-width="4"/>
<line x1="2125.80" y1="2048" x2="2125.80" y2="2058" stroke="#3a3a3a" stroke-width="4"/>
<line x1="1274.8" y1="2048.00" x2="1284.8" y2="2048.00" stroke="#111" stroke-width="4"/>
<line x1="1264.8" y1="2009.72" x2="1284.8" y2="2009.72" stroke="#111" stroke-width="4"/>
<line x1="1274.8" y1="1971.44" x2="1284.8" y2="1971.44" stroke="#111" stroke-width="4"/>
<line x1="1264.8" y1="1933.16" x2="1284.8" y2="1933.16" stroke="#111" stroke-width="4"/>
<line x1="1274.8" y1="1894.88" x2="1284.8" y2="1894.88" stroke="#111" stroke-width="4"/>
<line x1="1264.8" y1="1856.60" x2="1284.8" y2="1856.60" stroke="#111" stroke-width="4"/>
<line x1="1274.8" y1="1818.32" x2="1284.8" y2="1818.32" stroke="#111" stroke-width="4"/>
<line x1="1264.8" y1="1780.04" x2="1284.8" y2="1780.04" stroke="#111" stroke-width="4"/>
<line x1="1274.8" y1="1741.76" x2="1284.8" y2="1741.76" stroke="#111" stroke-width="4"/>
<line x1="1264.8" y1="1703.48" x2="1284.8" y2="1703.48" stroke="#111" stroke-width="4"/>
<line x1="1274.8" y1="1665.20" x2="1284.8" y2="1665.20" stroke="#111" stroke-width="4"/>
<line x1="1264.8" y1="1626.92" x2="1284.8" y2="1626.92" stroke="#111" stroke-width="4"/>
<line x1="1274.8" y1="1588.64" x2="1284.8" y2="1588.64" stroke="#111" stroke-width="4"/>
<line x1="1264.8" y1="1550.36" x2="1284.8" y2="1550.36" stroke="#111" stroke-width="4"/>
<line x1="1274.8" y1="1512.08" x2="1284.8" y2="1512.08" stroke="#111" stroke-width="4"/>
<line x1="1264.8" y1="1473.80" x2="1284.8" y2="1473.80" stroke="#111" stroke-width="4"/>
<line x1="1284.8" y1="1471.8" x2="1284.8" y2="2050.0" stroke="#3a3a3a" stroke-width="4"/>
<line x1="2125.8" y1="1471.8" x2="2125.8" y2="2050.0" stroke="#3a3a3a" stroke-width="4"/>
<line x1="1282.8" y1="1473.8" x2="2127.8" y2="1473.8" stroke="#111" stroke-width="4"/>
<line x1="1282.8" y1="2048" x2="2127.8" y2="2048" stroke="#111" stroke-width="4"/>
<text transform="translate(1597.50,2162.40) scale(0.5,0.5200)" font-size="88.0" textLength="425.0" lengthAdjust="spacingAndGlyphs">Voltage(V)</text>
<text transform="translate(1181.70,1932.00) rotate(-90) scale(0.5,0.5200)" font-size="88.0" textLength="647.6" lengthAdjust="spacingAndGlyphs">Temperature(°C)</text>
<line x1="1294.2" y1="1513.8" x2="1402.2" y2="1513.8" stroke="#8c1418" stroke-width="4.4"/>
<rect x="1334.70" y="1500.30" width="27" height="27" fill="#fff"/>
<rect x="1336.70" y="1502.30" width="23" height="23" fill="#8c1418"/>
<line x1="1294.2" y1="1569.7" x2="1402.2" y2="1569.7" stroke="#ff1414" stroke-width="2.6"/>
<text transform="translate(1414.80,1529.60) scale(0.5,0.5200)" font-size="88.0" textLength="108.0" lengthAdjust="spacingAndGlyphs">S6</text>
<text transform="translate(1414.80,1584.50) scale(0.5,0.5200)" font-size="88.0" textLength="776.0" lengthAdjust="spacingAndGlyphs">Polynomial fit of S6</text>
</svg>
</body></html>
